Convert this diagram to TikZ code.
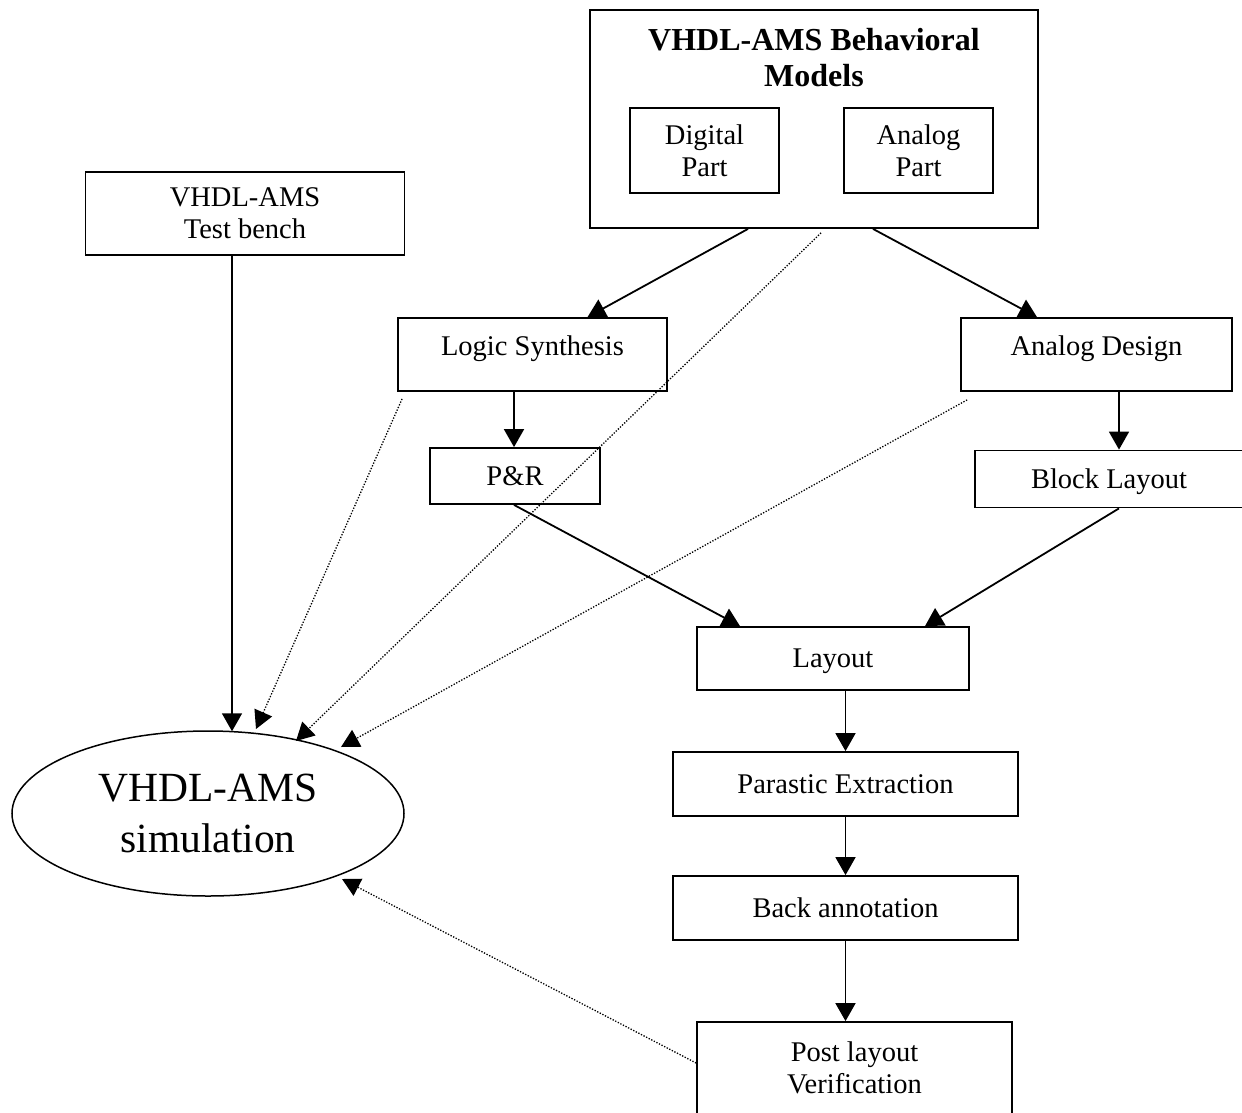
\documentclass[tikz,border=0pt]{standalone}
\usepackage{fontspec}
\setmainfont{Liberation Serif}
\usetikzlibrary{arrows.meta,shapes.geometric,calc}

\tikzset{
  frame/.style={draw, line width=1.8pt, rectangle, inner sep=0pt, align=center,
    font=\fontsize{28.5}{32}\selectfont},
  oneline/.style={frame, text height=19.5pt, text depth=1pt},
  highline/.style={frame, text height=19.5pt, text depth=18.5pt},
  flow/.style={line width=1.8pt, -{Triangle[length=18pt,width=20pt]}},
  feed/.style={line width=1.3pt, dash pattern=on 1.3pt off 1.6pt,
    -{Triangle[length=18pt,width=19pt]}},
}

\begin{document}
\begin{tikzpicture}[x=1pt,y=-1pt]
  \clip (0,0) rectangle (1242,1112);
  \fill[white] (0,0) rectangle (1242,1112);

  % behavioural model container
  \node[frame, minimum width=448pt, minimum height=218pt] (beh) at (814,119) {};
  \node[align=center, inner sep=0pt, font=\fontsize{32}{36}\selectfont\bfseries]
    (title) at (814,58) {VHDL-AMS Behavioral\\Models};
  \node[frame, minimum width=149pt, minimum height=85pt] (dig) at (704.5,150.5) {Digital\\Part};
  \node[frame, minimum width=149pt, minimum height=85pt] (ana) at (918.5,150.5) {Analog\\Part};

  % test bench
  \node[frame, minimum width=319pt, minimum height=83pt] (tb) at (245,213.5) {VHDL-AMS\\Test bench};

  % digital and analog flows
  \node[highline, minimum width=269pt, minimum height=73pt] (ls) at (532.5,354.5) {Logic Synthesis};
  \node[highline, minimum width=271pt, minimum height=73pt] (ad) at (1096.5,354.5) {Analog Design};
  \node[oneline, minimum width=170pt, minimum height=56pt] (pr) at (515,476) {P\&R};
  \node[oneline, minimum width=268pt, minimum height=57pt] (bl) at (1109,479) {Block Layout};

  % back-end chain
  \node[oneline, minimum width=272pt, minimum height=63pt] (lay) at (833,658.5) {Layout};
  \node[oneline, minimum width=345pt, minimum height=64pt] (pe) at (845.5,784) {Parastic Extraction};
  \node[oneline, minimum width=345pt, minimum height=64pt] (ba) at (845.5,908) {Back annotation};
  \node[frame, minimum width=315pt, minimum height=92pt] (pv) at (854.5,1068) {Post layout\\Verification};

  % simulation
  \node[draw, ellipse, line width=1.5pt, inner sep=0pt, minimum width=392pt, minimum height=165pt,
    align=center, font=\fontsize{41.5}{51}\selectfont] (sim) at (208,813.5) {VHDL-AMS\\simulation};

  % solid flow arrows
  \draw[flow] ([xshift=-66pt]beh.south) -- ([xshift=55pt]ls.north);
  \draw[flow] ([xshift=59pt]beh.south) -- ([xshift=-59.5pt]ad.north);
  \draw[flow] ([xshift=-1pt]pr.north |- ls.south) -- ([xshift=-1pt]pr.north);
  \draw[flow] ([xshift=22.5pt]ad.south) -- ([xshift=10pt]bl.north);
  \draw[flow] ([xshift=-1pt]pr.south) -- ([xshift=-93pt]lay.north);
  \draw[flow] ([xshift=10pt]bl.south) -- ([xshift=92pt]lay.north);
  \draw[flow] (lay.south -| pe.north) -- (pe.north);
  \draw[flow] (pe.south) -- (ba.north);
  \draw[flow] (ba.south) -- (ba.south |- pv.north);
  \draw[flow] ([xshift=-13pt]tb.south) -- ([xshift=24pt,yshift=-1pt]sim.north);

  % dotted feedback to simulation
  \draw[feed] ([shift={(5,7)}]ls.south west) -- ([shift={(48,-84.5)}]sim.center);
  \draw[feed] ([shift={(7,4)}]beh.south) -- ([shift={(88,-72.5)}]sim.center);
  \draw[feed] ([shift={(7,8)}]ad.south west) -- ([shift={(133,-66.5)}]sim.center);
  \draw[feed] ([shift={(0,-5)}]pv.west) -- ([shift={(134,65.5)}]sim.center);
\end{tikzpicture}
\end{document}
